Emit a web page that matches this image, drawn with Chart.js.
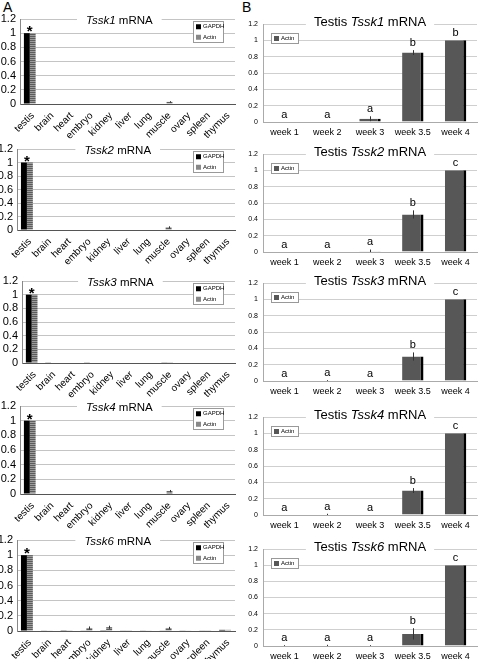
<!DOCTYPE html>
<html>
<head>
<meta charset="utf-8">
<script src="https://cdn.jsdelivr.net/npm/chart.js@4.4.0/dist/chart.umd.min.js"></script>
<style>
  body { margin: 0; background: #fff; width: 478px; height: 659px; position: relative; overflow: hidden;
         font-family: Arial, "Liberation Sans", sans-serif; }
  .tag { position: absolute; font-size: 14px; line-height: 14px; }
  canvas { position: absolute; }
</style>
</head>
<body>
<div class="tag" style="left:3px;top:0px">A</div>
<div class="tag" style="left:242px;top:0px">B</div>
<script>
// ---- data ----
const tissues = ['testis', 'brain', 'heart', 'embryo', 'kidney', 'liver', 'lung', 'muscle', 'ovary', 'spleen', 'thymus'];
const weeks = ['week 1', 'week 2', 'week 3', 'week 3.5', 'week 4'];
const genes = ['Tssk1', 'Tssk2', 'Tssk3', 'Tssk4', 'Tssk6'];
const yTickLabels = ['0', '0.2', '0.4', '0.6', '0.8', '1', '1.2'];

// A: tissue distribution (relative to testis)
const tssk1Gapdh = [1, 0, 0, 0, 0, 0, 0, 0, 0, 0, 0];
const tssk1Actin = [1, 0, 0, 0, 0, 0, 0, 0.03, 0, 0, 0];
const tssk1ActinErr = [0, 0, 0, 0, 0, 0, 0, 0.01, 0, 0, 0];
const tssk2Gapdh = [1, 0, 0, 0, 0, 0, 0, 0, 0, 0, 0];
const tssk2Actin = [1, 0, 0, 0, 0, 0, 0, 0.04, 0, 0, 0];
const tssk2ActinErr = [0, 0, 0, 0, 0, 0, 0, 0.015, 0, 0, 0];
const tssk3Gapdh = [1, 0.005, 0, 0.005, 0, 0, 0, 0.01, 0, 0, 0];
const tssk3Actin = [1, 0, 0, 0, 0, 0, 0, 0.01, 0, 0, 0];
const tssk3ActinErr = [0, 0, 0, 0, 0, 0, 0, 0, 0, 0, 0];
const tssk4Gapdh = [1, 0, 0, 0, 0, 0, 0, 0, 0, 0, 0];
const tssk4Actin = [1, 0, 0, 0, 0, 0, 0, 0.04, 0, 0, 0];
const tssk4ActinErr = [0, 0, 0, 0, 0, 0, 0, 0.015, 0, 0, 0];
const tssk6Gapdh = [1, 0.005, 0.01, 0.005, 0.01, 0.005, 0.005, 0.005, 0.005, 0.005, 0.015];
const tssk6Actin = [1, 0.005, 0.01, 0.04, 0.05, 0.01, 0.005, 0.04, 0.005, 0.01, 0.015];
const tssk6ActinErr = [0, 0, 0, 0.02, 0.02, 0, 0, 0.015, 0, 0, 0];

// B: testis time course (Actin)
const tssk1Weeks = [0, 0, 0.04, 0.85, 1.0];
const tssk1WeeksErr = [0, 0, 0.03, 0.03, 0];
const tssk1Letters = ['a', 'a', 'a', 'b', 'b'];
const tssk2Weeks = [0, 0, 0.01, 0.46, 1.0];
const tssk2WeeksErr = [0, 0, 0.02, 0.05, 0];
const tssk2Letters = ['a', 'a', 'a', 'b', 'c'];
const tssk3Weeks = [0, 0.005, 0, 0.30, 1.0];
const tssk3WeeksErr = [0, 0.005, 0, 0.05, 0];
const tssk3Letters = ['a', 'a', 'a', 'b', 'c'];
const tssk4Weeks = [0, 0.005, 0, 0.30, 1.0];
const tssk4WeeksErr = [0, 0.01, 0, 0.03, 0];
const tssk4Letters = ['a', 'a', 'a', 'b', 'c'];
const tssk6Weeks = [0.005, 0.005, 0.005, 0.15, 1.0];
const tssk6WeeksErr = [0.005, 0.01, 0.005, 0.07, 0];
const tssk6Letters = ['a', 'a', 'a', 'b', 'c'];

const tissueGapdh = [tssk1Gapdh, tssk2Gapdh, tssk3Gapdh, tssk4Gapdh, tssk6Gapdh];
const tissueActin = [tssk1Actin, tssk2Actin, tssk3Actin, tssk4Actin, tssk6Actin];
const tissueActinErr = [tssk1ActinErr, tssk2ActinErr, tssk3ActinErr, tssk4ActinErr, tssk6ActinErr];
const weekValues = [tssk1Weeks, tssk2Weeks, tssk3Weeks, tssk4Weeks, tssk6Weeks];
const weekErrs = [tssk1WeeksErr, tssk2WeeksErr, tssk3WeeksErr, tssk4WeeksErr, tssk6WeeksErr];
const weekLetters = [tssk1Letters, tssk2Letters, tssk3Letters, tssk4Letters, tssk6Letters];

// ---- layout (page pixels: 1.2 line, zero line, plot left) ----
const leftGeom = [[19, 104, 20], [149, 230, 17], [281, 363, 22], [406, 494, 20], [540, 631, 17]];
const rightGeom = [[24, 122], [154, 252], [283, 381], [417, 515], [549, 646]];

const FONT = 'Arial, "Liberation Sans", sans-serif';
Chart.defaults.font.family = FONT;
Chart.defaults.color = '#000';

// gray hatched fill for Actin bars in A
const hatch = (() => {
    const p = document.createElement('canvas');
    p.width = 4; p.height = 2;
    const c = p.getContext('2d');
    c.fillStyle = '#9c9c9c'; c.fillRect(0, 0, 4, 2);
    c.fillStyle = '#5c5c5c'; c.fillRect(0, 0, 4, 1);
    return c.createPattern(p, 'repeat');
})();

function makeCanvas(left, top, w, h) {
    const c = document.createElement('canvas');
    c.width = w; c.height = h;
    c.style.left = left + 'px'; c.style.top = top + 'px';
    c.style.width = w + 'px'; c.style.height = h + 'px';
    document.body.appendChild(c);
    return c;
}

// error bars, letters, asterisk, slanted labels, title and legend drawn on top of the chart
function decor(cfg) {
    return {
        id: 'decor',
        afterDatasetsDraw(chart) {
            const ctx = chart.ctx, ys = chart.scales.y;
            ctx.save();
            chart.data.datasets.forEach((ds, d) => {
                if (!ds.errors) return;
                const meta = chart.getDatasetMeta(d);
                ds.errors.forEach((e, j) => {
                    if (!e) return;
                    const x = Math.round(meta.data[j].x) + 0.5;
                    const v = ds.data[j];
                    ctx.strokeStyle = '#333';
                    ctx.lineWidth = 1;
                    ctx.beginPath();
                    ctx.moveTo(x, ys.getPixelForValue(Math.max(v - e, 0)));
                    ctx.lineTo(x, ys.getPixelForValue(v + e));
                    ctx.stroke();
                });
            });
            if (cfg.letters) {
                const ds = chart.data.datasets[0];
                const meta = chart.getDatasetMeta(0);
                ctx.fillStyle = '#000';
                ctx.font = '11px ' + FONT;
                ctx.textAlign = 'center';
                ctx.textBaseline = 'alphabetic';
                cfg.letters.forEach((l, j) => {
                    const top = ds.data[j] + (ds.errors[j] || 0);
                    ctx.fillText(l, meta.data[j].x, ys.getPixelForValue(top + 0.05));
                });
            }
            if (cfg.asterisk) {
                const m0 = chart.getDatasetMeta(0).data[0], m1 = chart.getDatasetMeta(1).data[0];
                ctx.fillStyle = '#000';
                ctx.font = 'bold 15px ' + FONT;
                ctx.textAlign = 'center';
                ctx.textBaseline = 'alphabetic';
                ctx.fillText('*', (m0.x + m1.x) / 2, ys.getPixelForValue(1.0) + 3);
            }
            if (cfg.slanted) {
                const xs = chart.scales.x, base = chart.chartArea.bottom;
                ctx.fillStyle = '#000';
                ctx.font = cfg.slanted.size + 'px ' + FONT;
                ctx.textAlign = 'right';
                ctx.textBaseline = 'middle';
                chart.data.labels.forEach((lab, j) => {
                    ctx.save();
                    ctx.translate(xs.getPixelForTick(j) + 3, base + cfg.slanted.dy);
                    ctx.rotate(-cfg.slanted.angle * Math.PI / 180);
                    ctx.fillText(lab, 0, 0);
                    ctx.restore();
                });
            }
            ctx.restore();
        },
        afterDraw(chart) {
            const ctx = chart.ctx, a = chart.chartArea;
            ctx.save();
            // title with mixed italic, white box breaking the top gridline
            const parts = cfg.title;
            const fontOf = p => (p[1] ? 'italic ' : '') + cfg.titleSize + 'px ' + FONT;
            let total = 0;
            parts.forEach(p => { ctx.font = fontOf(p); total += ctx.measureText(p[0]).width; });
            const cx = a.left + cfg.titleFrac * (a.right - a.left);
            const ty = a.top + cfg.titleDy;
            let x = cx - total / 2;
            ctx.fillStyle = '#fff';
            ctx.fillRect(x - cfg.titlePad, ty - 6, total + 2 * cfg.titlePad, 12);
            ctx.fillStyle = '#000';
            ctx.textBaseline = 'middle';
            ctx.textAlign = 'left';
            parts.forEach(p => {
                ctx.font = fontOf(p);
                ctx.fillText(p[0], x, ty);
                x += ctx.measureText(p[0]).width;
            });
            // legend box
            const lg = cfg.legend;
            const bx = lg.right ? a.right - lg.right - lg.w : a.left + lg.left;
            const by = a.top + lg.top;
            ctx.fillStyle = '#fff';
            ctx.fillRect(bx, by, lg.w, lg.h);
            ctx.strokeStyle = '#999';
            ctx.lineWidth = 1;
            ctx.strokeRect(bx + 0.5, by + 0.5, lg.w, lg.h);
            ctx.font = '6px ' + FONT;
            ctx.textBaseline = 'middle';
            chart.data.datasets.forEach((ds, d) => {
                const ry = by + lg.h / (chart.data.datasets.length * 2) * (2 * d + 1) + 0.5;
                ctx.fillStyle = ds.legendColor || ds.backgroundColor;
                ctx.fillRect(bx + 3, ry - 2.5, 5, 5);
                ctx.fillStyle = '#000';
                ctx.fillText(ds.label, bx + 10, ry);
            });
            ctx.restore();
        }
    };
}

function tissueChart(i) {
    const [top, zero, left] = leftGeom[i];
    const canvasTop = top - 19;
    const h = (zero - top) + 19 + 30 + 14;
    const canvas = makeCanvas(0, canvasTop, 240, h);
    new Chart(canvas, {
        type: 'bar',
        data: {
            labels: tissues,
            datasets: [
                { label: 'GAPDH', data: tissueGapdh[i], backgroundColor: '#000',
                  categoryPercentage: 0.6, barPercentage: 1 },
                { label: 'Actin', data: tissueActin[i], backgroundColor: hatch, legendColor: '#888',
                  errors: tissueActinErr[i], categoryPercentage: 0.6, barPercentage: 1 }
            ]
        },
        options: {
            responsive: false,
            animation: false,
            layout: { padding: { top: 19, right: 5, left: 0, bottom: 14 } },
            plugins: { legend: { display: false }, tooltip: { enabled: false } },
            scales: {
                x: {
                    grid: { display: false, drawTicks: false },
                    border: { color: '#555' },
                    ticks: { display: false },
                    afterFit: s => { s.height = 30; }
                },
                y: {
                    min: 0, max: 1.2,
                    grid: { color: '#c4c4c4', drawTicks: false },
                    border: { color: '#888' },
                    ticks: { stepSize: 0.2, autoSkip: false, padding: 4, font: { size: 11 },
                             callback: (v, idx) => yTickLabels[idx] },
                    afterFit: s => { s.width = left; }
                }
            }
        },
        plugins: [decor({
            title: [[genes[i], true], [' mRNA', false]],
            titleSize: 11.5, titleFrac: 0.462, titleDy: 2, titlePad: 9,
            legend: { right: 12, top: 2, w: 30, h: 21 },
            asterisk: true,
            slanted: { size: 10, angle: 45, dy: 10 }
        })]
    });
}

function weekChart(i) {
    const [top, zero] = rightGeom[i];
    const canvasTop = top - 24;
    const h = (zero - top) + 24 + 16;
    const canvas = makeCanvas(240, canvasTop, 238, h);
    new Chart(canvas, {
        type: 'bar',
        data: {
            labels: weeks,
            datasets: [{
                label: 'Actin', data: weekValues[i], errors: weekErrs[i],
                backgroundColor: '#575757', borderColor: '#000',
                borderWidth: { top: 0, left: 0, bottom: 0, right: 3 },
                categoryPercentage: 1, barPercentage: 0.5
            }]
        },
        options: {
            responsive: false,
            animation: false,
            layout: { padding: { top: 24, right: 1, left: 0, bottom: 0 } },
            plugins: { legend: { display: false }, tooltip: { enabled: false } },
            scales: {
                x: {
                    grid: { display: false, drawTicks: false },
                    border: { color: '#aaa' },
                    ticks: { autoSkip: false, maxRotation: 0, padding: 5, font: { size: 9 } },
                    afterFit: s => { s.height = 16; }
                },
                y: {
                    min: 0, max: 1.2,
                    grid: { color: '#cfcfcf', drawTicks: false },
                    border: { color: '#aaa' },
                    ticks: { stepSize: 0.2, autoSkip: false, padding: 5, font: { size: 7 },
                             callback: (v, idx) => yTickLabels[idx] },
                    afterFit: s => { s.width = 23; }
                }
            }
        },
        plugins: [decor({
            title: [['Testis ', false], [genes[i], true], [' mRNA', false]],
            titleSize: 13, titleFrac: 0.5, titleDy: -2, titlePad: 8,
            legend: { left: 8, top: 9, w: 27, h: 10 },
            letters: weekLetters[i]
        })]
    });
}

for (let i = 0; i < genes.length; i++) {
    tissueChart(i);
    weekChart(i);
}
</script>
</body>
</html>
